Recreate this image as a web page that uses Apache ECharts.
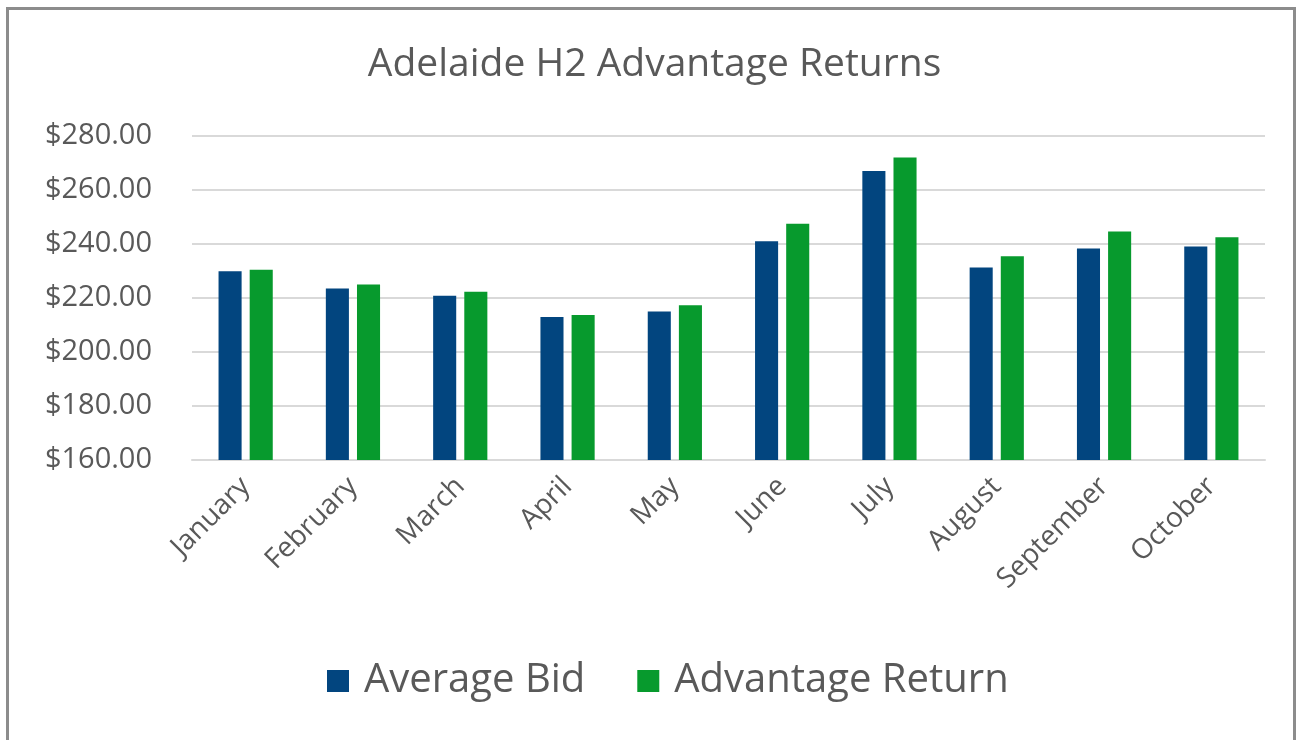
<!DOCTYPE html>
<html>
<head>
<meta charset="utf-8">
<script src="https://cdn.jsdelivr.net/npm/echarts@6/dist/echarts.min.js"></script>
<style>
  html, body { margin: 0; padding: 0; background: #fff; }
  #frame { position: absolute; left: 6px; top: 7px; width: 1290px; height: 740px;
           border: 3px solid #8c8c8c; border-bottom: none; box-sizing: border-box; }
  #chart { position: absolute; left: 0; top: 0; width: 1309px; height: 740px; }
</style>
</head>
<body>
<div id="frame"></div>
<div id="chart"></div>
<script>
// 月份
var months = ['January', 'February', 'March', 'April', 'May', 'June', 'July', 'August', 'September', 'October'];
// 平均出价
var averageBid = [229.9, 223.5, 220.8, 213.0, 215.0, 241.0, 267.0, 231.3, 238.3, 239.1];
// 优势回报
var advantageReturn = [230.5, 225.0, 222.3, 213.7, 217.3, 247.5, 272.0, 235.5, 244.6, 242.5];

var textColor = '#595959';
var fontFam = '"Open Sans", "Noto Sans", sans-serif';

var myChart = echarts.init(document.getElementById('chart'));
var option = {
    title: {
        text: 'Adelaide H2 Advantage Returns',
        left: 'center',
        top: 40,
        textStyle: { color: textColor, fontSize: 39, fontWeight: 'normal', fontFamily: fontFam }
    },
    legend: {
        bottom: 34,
        left: 322,
        itemWidth: 22,
        itemHeight: 22,
        itemGap: 52,
        icon: 'rect',
        textStyle: { color: textColor, fontSize: 40, fontFamily: fontFam, padding: [0, 0, 0, 10] },
        data: ['Average Bid', 'Advantage Return']
    },
    grid: {
        left: 192,
        right: 44,
        top: 136,
        bottom: 280
    },
    xAxis: [{
        type: 'category',
        data: months,
        axisTick: { show: false },
        axisLine: { lineStyle: { color: '#d9d9d9', width: 2 } },
        axisLabel: {
            interval: 0,
            rotate: 45,
            margin: 22,
            color: textColor,
            fontSize: 28,
            fontFamily: fontFam
        }
    }],
    yAxis: [{
        type: 'value',
        min: 160,
        max: 280,
        interval: 20,
        axisLine: { show: false },
        axisTick: { show: false },
        splitLine: { lineStyle: { color: '#d9d9d9', width: 2 } },
        axisLabel: {
            margin: 40,
            color: textColor,
            fontSize: 29,
            fontFamily: fontFam,
            formatter: function (v) { return '$' + v.toFixed(2); }
        }
    }],
    series: [
        {
            name: 'Average Bid',
            type: 'bar',
            barWidth: '21.5%',
            barGap: '35%',
            itemStyle: { color: '#02457f' },
            data: averageBid
        },
        {
            name: 'Advantage Return',
            type: 'bar',
            barWidth: '21.5%',
            itemStyle: { color: '#079a2d' },
            data: advantageReturn
        }
    ],
    animation: false
};
myChart.setOption(option);
</script>
</body>
</html>
